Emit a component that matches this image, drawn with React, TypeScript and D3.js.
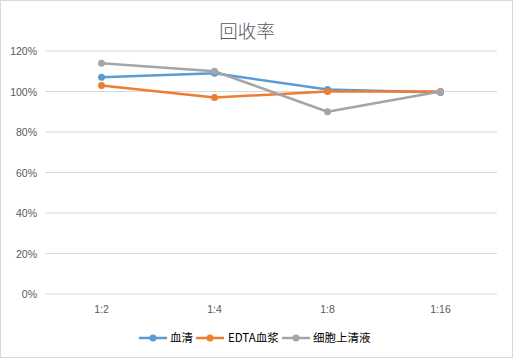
import React from "react";
import * as d3 from "d3";

const categories = ["1:2", "1:4", "1:8", "1:16"];
const serum = [1.07, 1.09, 1.01, 0.995];
const edta = [1.03, 0.97, 1.0, 1.0];
const supernatant = [1.14, 1.1, 0.9, 1.0];
const yTicks = [0, 0.2, 0.4, 0.6, 0.8, 1.0, 1.2];
const seriesNames = ["血清", "EDTA血浆", "细胞上清液"];
const colors = ["#5B9BD5", "#ED7D31", "#A5A5A5"];

const W = 513, H = 358;
const left = 45, right = 497, top = 51, bottom = 294;

export default function App() {
  const x = d3.scaleBand().domain(categories).range([left, right]);
  const y = d3.scaleLinear().domain([0, 1.2]).range([bottom, top]);
  const fmt = d3.format(".0%");
  const series = [serum, edta, supernatant];
  const line = d3
    .line<number>()
    .x((_, i) => x(categories[i])! + x.bandwidth() / 2)
    .y((d) => y(d));
  const legendItems = [
    { lx: 139, tx: 170 },
    { lx: 196, tx: 228 },
    { lx: 282, tx: 313 },
  ];
  return (
    <svg width={W} height={H} style={{ position: "absolute", left: 0, top: 0 }}>
      <rect x={0.5} y={0.5} width={W - 1} height={H - 1} fill="#fff" stroke="#D9D9D9" />
      <text x={247} y={38} textAnchor="middle" fontSize={18.5} fontWeight={300} fill="#595959" fontFamily="Noto Sans CJK SC">
        回收率
      </text>
      {yTicks.map((t) => (
        <g key={t}>
          <line x1={left} x2={right} y1={y(t)} y2={y(t)} stroke="#D9D9D9" strokeWidth={1} />
          <text x={37} y={y(t) + 4} textAnchor="end" fontSize={10.5} fill="#595959" fontFamily="Liberation Sans">
            {fmt(t)}
          </text>
        </g>
      ))}
      {categories.map((c) => (
        <text key={c} x={x(c)! + x.bandwidth() / 2} y={313} textAnchor="middle" fontSize={10.5} fill="#595959" fontFamily="Liberation Sans">
          {c}
        </text>
      ))}
      {series.map((s, si) => (
        <g key={si}>
          <path d={line(s)!} fill="none" stroke={colors[si]} strokeWidth={2.5} strokeLinejoin="round" />
          {s.map((v, i) => (
            <circle key={i} cx={x(categories[i])! + x.bandwidth() / 2} cy={y(v)} r={3.5} fill={colors[si]} />
          ))}
        </g>
      ))}
      {legendItems.map((l, i) => (
        <g key={i}>
          <line x1={l.lx} x2={l.lx + 28} y1={338} y2={338} stroke={colors[i]} strokeWidth={2.5} />
          <circle cx={l.lx + 14} cy={338} r={3.5} fill={colors[i]} />
          <text x={l.tx} y={342} fontSize={11.5} fill="#000" fontFamily="Noto Sans CJK SC">
            {seriesNames[i]}
          </text>
        </g>
      ))}
    </svg>
  );
}
